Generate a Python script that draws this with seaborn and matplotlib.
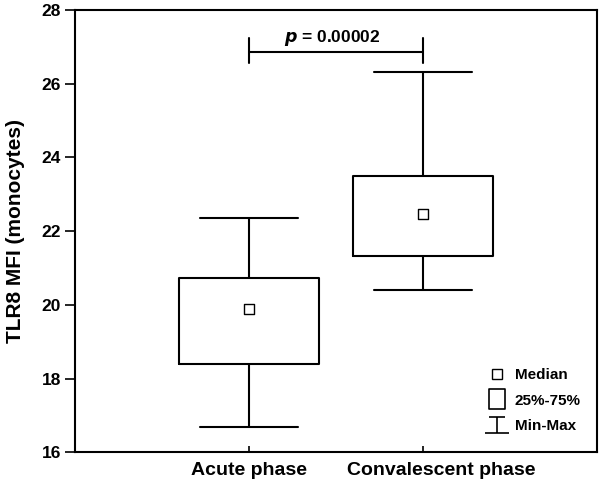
import matplotlib
matplotlib.use("Agg")
import matplotlib.pyplot as plt
import matplotlib.transforms as mtransforms
from matplotlib.lines import Line2D
from matplotlib.path import Path
import seaborn as sns
import pandas as pd
import numpy as np

# ---- data ----
categories = ["Acute phase", "Convalescent phase"]
minimum = [16.70, 20.40]
q1 = [18.39, 21.33]
median = [19.88, 22.47]
q3 = [20.74, 23.50]
maximum = [22.35, 26.31]
p_text = "0.00002"
bracket_level = [26.85]
y_ticks = [16, 18, 20, 22, 24, 26, 28]

sns.set_theme(style="white")
plt.rcParams['font.family'] = ['Liberation Sans', 'DejaVu Sans']
plt.rcParams['font.weight'] = 'bold'
for k in ("text.color", "axes.labelcolor", "xtick.color", "ytick.color", "axes.edgecolor"):
    plt.rcParams[k] = "black"

rows = []
for c, a, b, m, d, e in zip(categories, minimum, q1, median, q3, maximum):
    for v in (a, b, m, d, e):
        rows.append({"phase": c, "value": v})
df = pd.DataFrame(rows)
med_df = pd.DataFrame({"phase": categories, "value": median})

fig = plt.figure(figsize=(6.0, 4.9), dpi=100)
ax = fig.add_axes([0.125, 0.0769, 0.87, 0.9027])

lw = 1.5
sns.boxplot(data=df, x="phase", y="value", order=categories, whis=(0, 100),
            width=0.8, fill=False, color="black", linewidth=lw,
            showfliers=False, capwidths=0.56,
            medianprops=dict(visible=False), ax=ax)
sns.scatterplot(data=med_df, x="phase", y="value", marker="s", s=42,
                facecolor="white", edgecolor="black", linewidth=1.0,
                zorder=5, ax=ax)

# significance bracket
lvl = bracket_level[0]
ax.plot([0, 1], [lvl, lvl], color="black", lw=lw, solid_capstyle="butt")
for xp in (0, 1):
    ax.plot([xp, xp], [lvl - 0.30, lvl + 0.40], color="black", lw=lw)
ax.text(0.48, lvl + 0.12, r"$\bf{\it{p}}$" + " = " + p_text, ha="center", va="bottom",
        fontsize=12.5, fontweight="bold")

ax.set_xlim(-1, 2)
ax.set_ylim(16, 28)
ax.set_yticks(y_ticks)
ax.set_yticklabels([str(t) for t in y_ticks], fontsize=12.5, fontweight="bold")
ax.set_xticks([0, 1])
ax.set_xticklabels(categories, fontsize=14, fontweight="bold")
ax.set_xlabel("")
ax.set_ylabel("TLR8 MFI (monocytes)", fontsize=15, fontweight="bold", labelpad=12)
ax.tick_params(axis="y", direction="out", length=7, width=1.2, pad=3, left=True)
ax.tick_params(axis="x", direction="in", length=4, width=1.2, pad=7, bottom=True)
for s in ax.spines.values():
    s.set_color("black")
    s.set_linewidth(1.5)
    s.set_visible(True)

# the second category label sits a little right of its tick in the reference
lbl = ax.get_xticklabels()[1]
lbl.set_transform(lbl.get_transform() + mtransforms.ScaledTranslation(0.18, 0, fig.dpi_scale_trans))

# legend
box_path = Path([(-0.38, -0.5), (0.38, -0.5), (0.38, 0.5), (-0.38, 0.5), (-0.38, -0.5)],
                [Path.MOVETO, Path.LINETO, Path.LINETO, Path.LINETO, Path.CLOSEPOLY])
ibeam_path = Path([(-0.35, 0.33), (0.35, 0.33), (0, 0.33), (0, -0.33), (-0.5, -0.33), (0.5, -0.33)],
                  [Path.MOVETO, Path.LINETO, Path.MOVETO, Path.LINETO, Path.MOVETO, Path.LINETO])
handles = [
    Line2D([], [], ls="none", marker="s", markersize=7, markerfacecolor="white",
           markeredgecolor="black", markeredgewidth=1.0),
    Line2D([], [], ls="none", marker=box_path, markersize=15, markerfacecolor="white",
           markeredgecolor="black", markeredgewidth=1.2),
    Line2D([], [], ls="none", marker=ibeam_path, markersize=17, markerfacecolor="none",
           markeredgecolor="black", markeredgewidth=1.2),
]
leg = ax.legend(handles, ["Median", "25%-75%", "Min-Max"], loc="lower right",
                frameon=False, handlelength=1.5, handletextpad=0.4,
                labelspacing=0.75, bbox_to_anchor=(0.995, 0.012),
                prop={"weight": "bold", "size": 11})

fig.savefig("out.png", dpi=100)
